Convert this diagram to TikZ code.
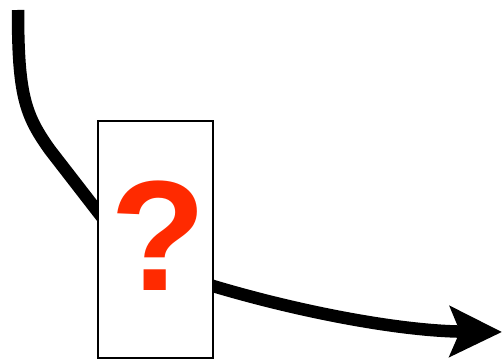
\documentclass[tikz,border=0pt]{standalone}
\usepackage{fontspec}
\setmainfont{Liberation Sans}
\usetikzlibrary{arrows.meta, positioning}
\definecolor{AlertRed}{HTML}{FF2A00}
\tikzset{
  flowline/.style={line width=12.5pt, draw=black, -{Stealth[length=52pt, width=50pt, inset=10pt]}},
  blackbox/.style={draw=black, line width=2pt, fill=white, minimum width=115pt, minimum height=237pt, inner sep=0pt},
  qmarkfont/.style={text=AlertRed, font=\fontsize{157}{157}\selectfont\bfseries, inner sep=0pt, anchor=base}
}

\begin{document}
\begin{tikzpicture}[x=1pt, y=-1pt]
\useasboundingbox (0,0) rectangle (504,361);
\coordinate (start) at (18,10);
\coordinate (end) at (502,332);
% the path runs behind the box
\draw[flowline] (start) .. controls (18,95) and (25,115) .. (50,150)
  -- (98,212) .. controls (130,254) and (170,272) .. (213,286)
  .. controls (300,312) and (400,331) .. (end);
\node[blackbox] (box) at (155.5,239.5) {};
\node[qmarkfont] (qmark) at (158.5,290) {?};
\end{tikzpicture}
\end{document}
